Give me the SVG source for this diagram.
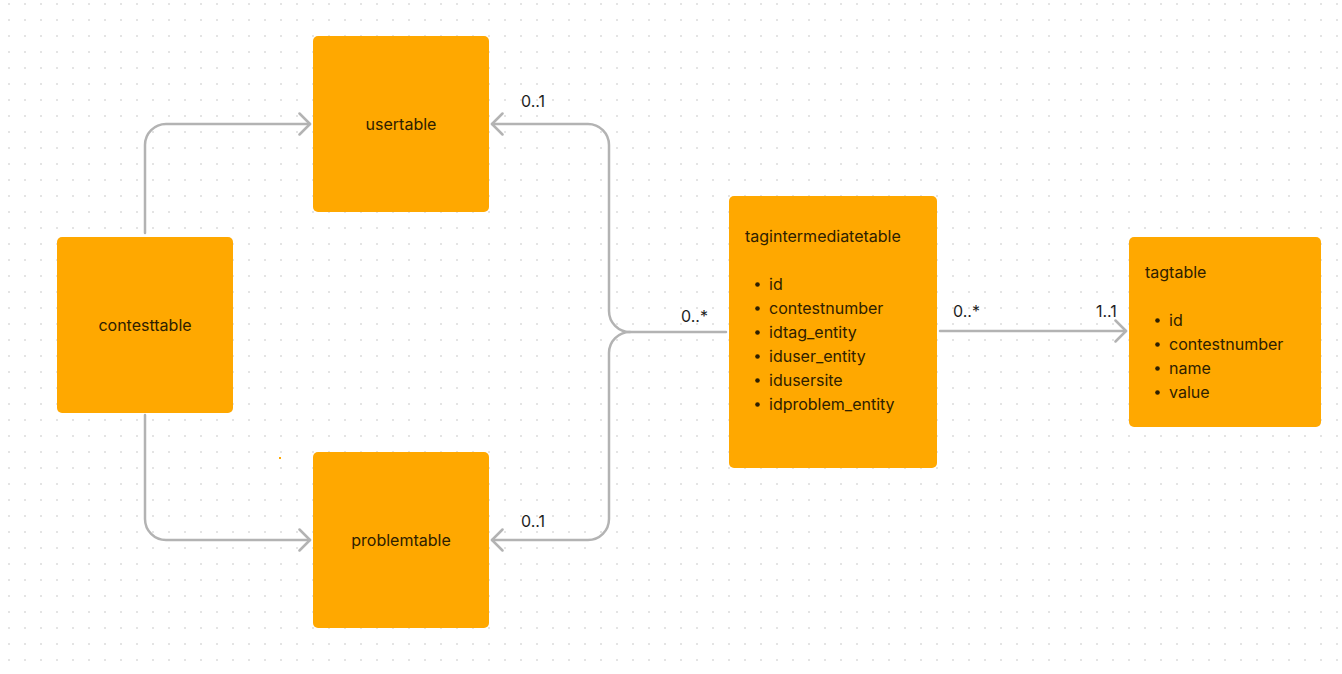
<svg xmlns="http://www.w3.org/2000/svg" width="1342" height="674" viewBox="0 0 1342 674">
<style>
.node{fill:#FFA800;}
.t{font-family:Inter,"Noto Sans","Liberation Sans",sans-serif;font-size:16px;fill:#2e2000;}
.c{text-anchor:middle;}
.lbl{font-family:Inter,"Noto Sans","Liberation Sans",sans-serif;font-size:16px;fill:#1e1e1e;}
.edge{fill:none;stroke:#b3b3b3;stroke-width:2.5;stroke-linecap:round;stroke-linejoin:round;}
.dot{fill:#2e2000;}
</style>
<defs>
<pattern id="grid" x="0" y="0" width="16" height="16" patternUnits="userSpaceOnUse">
<rect x="8" y="3" width="2" height="2" fill="#e4e4e4"/>
</pattern>
<marker id="arr" viewBox="0 0 14 24" refX="12" refY="12" markerWidth="14" markerHeight="24" markerUnits="userSpaceOnUse" orient="auto">
<path d="M1.5,1.5 L12,12 L1.5,22.5" fill="none" stroke="#b3b3b3" stroke-width="2.5" stroke-linecap="round" stroke-linejoin="round"/>
</marker>
</defs>
<rect width="1342" height="674" fill="#ffffff"/>
<rect width="1342" height="674" fill="url(#grid)"/>
<rect x="279" y="457" width="2" height="2" fill="#FFA800"/>

<g id="connectors">
<path class="edge" marker-end="url(#arr)" d="M145,233 V145 A21,21 0 0 1 166,124 H310"/>
<path class="edge" marker-end="url(#arr)" d="M145,415 V519 A21,21 0 0 0 166,540 H310"/>
<path class="edge" marker-end="url(#arr)" d="M726,332 H630 A21,21 0 0 1 609,311 V145 A21,21 0 0 0 588,124 H492"/>
<path class="edge" marker-end="url(#arr)" d="M630,332 A21,21 0 0 0 609,353 V519 A21,21 0 0 1 588,540 H492"/>
<path class="edge" marker-end="url(#arr)" d="M940,331 H1126"/>
<text class="lbl" x="521" y="107">0..1</text>
<text class="lbl" x="521" y="527">0..1</text>
<text class="lbl" x="681" y="322">0..*</text>
<text class="lbl" x="953" y="317">0..*</text>
<text class="lbl" x="1096" y="317">1..1</text>
</g>

<g id="usertable">
<rect class="node" x="313" y="36" width="176" height="176" rx="5"/>
<text class="t c" x="401" y="130">usertable</text>
</g>

<g id="contesttable">
<rect class="node" x="57" y="237" width="176" height="176" rx="5"/>
<text class="t c" x="145" y="331">contesttable</text>
</g>

<g id="problemtable">
<rect class="node" x="313" y="452" width="176" height="176" rx="5"/>
<text class="t c" x="401" y="546">problemtable</text>
</g>

<g id="tagintermediatetable">
<rect class="node" x="729" y="196" width="208" height="272" rx="5"/>
<text class="t" x="745" y="242">tagintermediatetable</text>
<circle class="dot" cx="757.5" cy="284.5" r="2.3"/>
<circle class="dot" cx="757.5" cy="308.5" r="2.3"/>
<circle class="dot" cx="757.5" cy="332.5" r="2.3"/>
<circle class="dot" cx="757.5" cy="356.5" r="2.3"/>
<circle class="dot" cx="757.5" cy="380.5" r="2.3"/>
<circle class="dot" cx="757.5" cy="404.5" r="2.3"/>
<text class="t" x="769" y="290">id</text>
<text class="t" x="769" y="314">contestnumber</text>
<text class="t" x="769" y="338">idtag_entity</text>
<text class="t" x="769" y="362">iduser_entity</text>
<text class="t" x="769" y="386">idusersite</text>
<text class="t" x="769" y="410">idproblem_entity</text>
</g>

<g id="tagtable">
<rect class="node" x="1129" y="237" width="192" height="190" rx="5"/>
<text class="t" x="1145" y="278">tagtable</text>
<circle class="dot" cx="1157.5" cy="320.5" r="2.3"/>
<circle class="dot" cx="1157.5" cy="344.5" r="2.3"/>
<circle class="dot" cx="1157.5" cy="368.5" r="2.3"/>
<circle class="dot" cx="1157.5" cy="392.5" r="2.3"/>
<text class="t" x="1169" y="326">id</text>
<text class="t" x="1169" y="350">contestnumber</text>
<text class="t" x="1169" y="374">name</text>
<text class="t" x="1169" y="398">value</text>
</g>
</svg>
